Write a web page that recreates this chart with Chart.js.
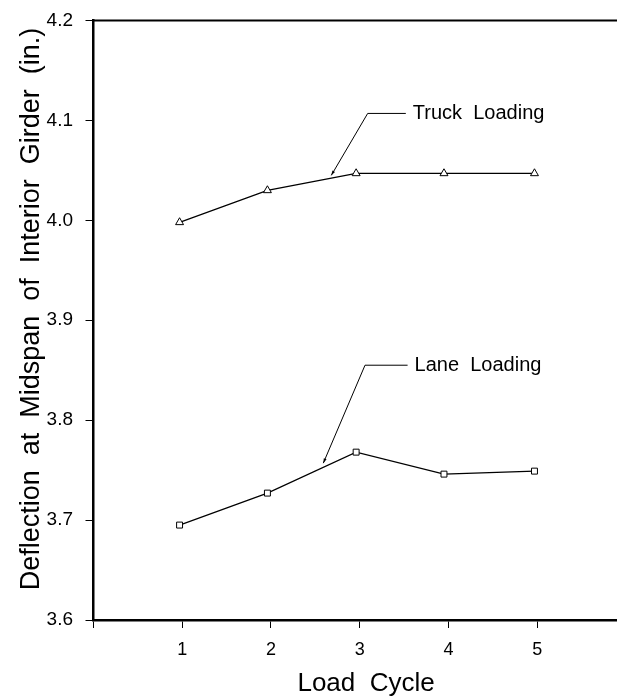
<!DOCTYPE html>
<html>
<head>
<meta charset="utf-8">
<script src="https://cdn.jsdelivr.net/npm/chart.js@4.4.1/dist/chart.umd.min.js"></script>
<style>
  html, body { margin: 0; padding: 0; background: #fff; }
  canvas { display: block; }
</style>
</head>
<body>
<canvas id="chart" width="617" height="697"></canvas>
<script>
const loadCycle = [0.97, 1.96, 2.96, 3.95, 4.97];
const truckDeflection = [3.998, 4.030, 4.047, 4.047, 4.047];
const laneDeflection = [3.695, 3.727, 3.768, 3.746, 3.749];

const xTicks = [0, 1, 2, 3, 4, 5];
const yTicks = [3.6, 3.7, 3.8, 3.9, 4.0, 4.1, 4.2];

// leader notes: label, arrow tip, elbow and end of the short horizontal stroke (data units)
const noteLabels = ["Truck  Loading", "Lane  Loading"];
const noteTipX = [2.68, 2.59];
const noteTipY = [4.045, 3.757];
const noteElbowX = [3.09, 3.06];
const noteElbowY = [4.107, 3.855];
const noteEndX = [3.52, 3.54];

const FONT = '"Liberation Sans", Arial, Helvetica, sans-serif';
Chart.defaults.font.family = FONT;
Chart.defaults.color = "#000";

const toPoints = ys => loadCycle.map((c, i) => ({ x: c, y: ys[i] }));

const frame = {
  id: "frame",
  afterDraw(chart) {
    const { ctx, chartArea: a, scales: { x, y } } = chart;
    ctx.save();
    ctx.strokeStyle = "#000";
    ctx.fillStyle = "#000";
    ctx.lineWidth = 2;
    ctx.beginPath();
    ctx.moveTo(a.left, a.top);
    ctx.lineTo(chart.width, a.top);
    ctx.stroke();

    ctx.lineWidth = 1;
    ctx.font = "20px " + FONT;
    ctx.textBaseline = "middle";
    noteLabels.forEach((label, i) => {
      const tx = x.getPixelForValue(noteTipX[i]);
      const ty = y.getPixelForValue(noteTipY[i]);
      const ex = x.getPixelForValue(noteElbowX[i]);
      const ey = y.getPixelForValue(noteElbowY[i]);
      const hx = x.getPixelForValue(noteEndX[i]);
      ctx.beginPath();
      ctx.moveTo(hx, ey);
      ctx.lineTo(ex, ey);
      ctx.lineTo(tx, ty);
      ctx.stroke();
      // small arrow head at the tip
      const ang = Math.atan2(ty - ey, tx - ex);
      ctx.beginPath();
      ctx.moveTo(tx, ty);
      ctx.lineTo(tx - 5 * Math.cos(ang - 0.3), ty - 5 * Math.sin(ang - 0.3));
      ctx.lineTo(tx - 5 * Math.cos(ang + 0.3), ty - 5 * Math.sin(ang + 0.3));
      ctx.closePath();
      ctx.fill();
      ctx.fillText(label, hx + 7, ey);
    });
    ctx.restore();
  }
};

new Chart(document.getElementById("chart"), {
  type: "line",
  data: {
    datasets: [
      {
        label: "Truck Loading",
        data: toPoints(truckDeflection),
        borderColor: "#000",
        borderWidth: 1.2,
        pointStyle: "triangle",
        pointRadius: 4.6,
        pointBackgroundColor: "#fff",
        pointBorderColor: "#000",
        pointBorderWidth: 1,
        tension: 0
      },
      {
        label: "Lane Loading",
        data: toPoints(laneDeflection),
        borderColor: "#000",
        borderWidth: 1.2,
        pointStyle: "rect",
        pointRadius: 4.2,
        pointBackgroundColor: "#fff",
        pointBorderColor: "#000",
        pointBorderWidth: 1,
        tension: 0
      }
    ]
  },
  options: {
    responsive: false,
    animation: false,
    layout: { autoPadding: false, padding: { top: 20.5, left: 0, right: 0, bottom: 0 } },
    plugins: { legend: { display: false }, tooltip: { enabled: false } },
    scales: {
      x: {
        type: "linear",
        min: 0,
        max: 5.9,
        afterFit: s => { s.height = 77; s.paddingLeft = 0; s.paddingRight = 0; },
        afterBuildTicks: s => { s.ticks = xTicks.map(v => ({ value: v })); },
        ticks: {
          font: { size: 18 },
          padding: 11,
          maxRotation: 0,
          autoSkip: false,
          callback: v => (v === 0 ? "" : String(v))
        },
        grid: { drawOnChartArea: false, tickLength: 8, color: "#000", lineWidth: 1 },
        border: { display: true, color: "#000", width: 2.5 },
        title: {
          display: true,
          text: "   Load  Cycle",
          font: { size: 26, lineHeight: 1 },
          padding: { top: 0, bottom: 0 }
        }
      },
      y: {
        min: 3.6,
        max: 4.2,
        afterFit: s => { s.width = 93.5; s.paddingTop = 0; s.paddingBottom = 0; },
        afterBuildTicks: s => { s.ticks = yTicks.map(v => ({ value: v })); },
        ticks: {
          font: { size: 19 },
          padding: 12.5,
          autoSkip: false,
          callback: v => Number(v).toFixed(1)
        },
        grid: { drawOnChartArea: false, tickLength: 8, color: "#000", lineWidth: 1 },
        border: { display: true, color: "#000", width: 2.5 },
        title: {
          display: true,
          text: "   Deflection  at  Midspan  of  Interior  Girder  (in.)",
          font: { size: 27, lineHeight: 1.2 },
          padding: { top: 15, bottom: 0 }
        }
      }
    }
  },
  plugins: [frame]
});
</script>
</body>
</html>
